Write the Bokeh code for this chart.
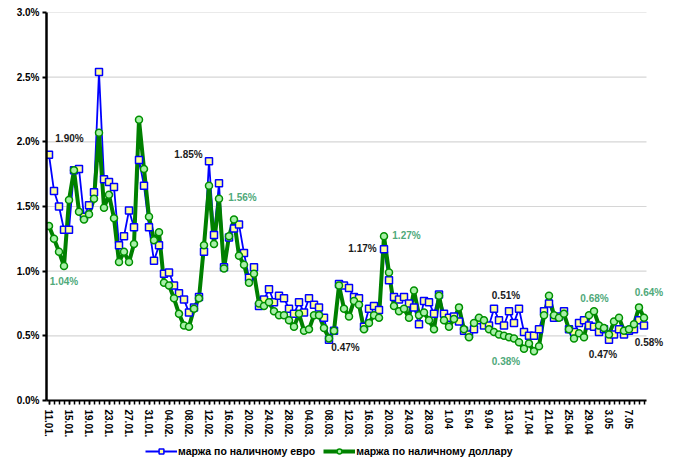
from bokeh.plotting import figure
from bokeh.layouts import column
from bokeh.models import FixedTicker, Legend, LegendItem, LabelSet, ColumnDataSource
from bokeh.core.properties import value
from bokeh.embed import file_html
from bokeh.resources import INLINE

# daily margin values, % (11.01 ... 10.05)
euro = [1.90, 1.62, 1.50, 1.32, 1.32, 1.78, 1.79, 1.42, 1.51, 1.61,
        2.54, 1.71, 1.69, 1.65, 1.20, 1.27, 1.47, 1.34, 1.86, 1.66,
        1.34, 1.08, 1.20, 0.98, 0.99, 0.89, 0.83, 0.78, 0.68, 0.72,
        0.80, 1.15, 1.85, 1.28, 1.68, 1.03, 1.26, 1.33, 1.36, 1.14,
        0.95, 1.03, 0.73, 0.78, 0.86, 0.76, 0.81, 0.79, 0.71, 0.67,
        0.76, 0.68, 0.79, 0.74, 0.72, 0.64, 0.47, 0.54, 0.90, 0.89,
        0.87, 0.80, 0.79, 0.57, 0.71, 0.73, 0.70, 1.17, 0.93, 0.80,
        0.78, 0.80, 0.75, 0.72, 0.59, 0.77, 0.76, 0.67, 0.82, 0.67,
        0.64, 0.65, 0.61, 0.54, 0.51, 0.55, 0.62, 0.58, 0.58, 0.71,
        0.62, 0.58, 0.69, 0.60, 0.71, 0.53, 0.50, 0.50, 0.55, 0.69,
        0.75, 0.64, 0.65, 0.69, 0.55, 0.53, 0.60, 0.62, 0.58, 0.57,
        0.53, 0.55, 0.47, 0.51, 0.55, 0.51, 0.54, 0.55, 0.62, 0.58]

dollar = [1.35, 1.25, 1.15, 1.04, 1.55, 1.78, 1.46, 1.40, 1.44, 1.56,
          2.07, 1.49, 1.59, 1.41, 1.07, 1.15, 1.07, 1.21, 2.17, 1.79,
          1.42, 1.24, 1.30, 0.91, 0.89, 0.79, 0.67, 0.58, 0.57, 0.71,
          0.79, 1.20, 1.66, 1.21, 1.56, 1.02, 1.27, 1.40, 1.12, 1.05,
          0.91, 0.98, 0.75, 0.73, 0.76, 0.69, 0.66, 0.66, 0.62, 0.57,
          0.67, 0.54, 0.55, 0.66, 0.66, 0.56, 0.48, 0.54, 0.89, 0.71,
          0.65, 0.77, 0.74, 0.55, 0.60, 0.66, 0.64, 1.27, 0.99, 0.73,
          0.69, 0.71, 0.64, 0.85, 0.66, 0.68, 0.62, 0.55, 0.81, 0.62,
          0.57, 0.63, 0.72, 0.55, 0.49, 0.60, 0.64, 0.62, 0.55, 0.53,
          0.51, 0.50, 0.49, 0.48, 0.45, 0.40, 0.44, 0.38, 0.42, 0.66,
          0.81, 0.66, 0.64, 0.67, 0.55, 0.48, 0.52, 0.49, 0.66, 0.69,
          0.58, 0.56, 0.51, 0.61, 0.64, 0.54, 0.55, 0.59, 0.72, 0.64]

tick_step = 4
tick_labels = ["11.01.", "15.01.", "19.01.", "23.01.", "27.01.", "31.01.",
               "04.02.", "08.02.", "12.02.", "16.02.", "20.02.", "24.02.",
               "28.02.", "04.03.", "08.03.", "12.03.", "16.03.", "20.03.",
               "24.03", "28.03", "1.04", "5.04", "9.04", "13.04", "17.04",
               "21.04", "25.04", "29.04", "3.05", "7.05"]

y_ticks = [0.0, 0.5, 1.0, 1.5, 2.0, 2.5, 3.0]
y_tick_labels = ["0.0%", "0.5%", "1.0%", "1.5%", "2.0%", "2.5%", "3.0%"]

series_names = ["маржа по наличному евро", "маржа по наличному доллару"]

# annotation labels (position in day index / value units)
ann_text = ["1.90%", "1.04%", "1.85%", "1.56%", "1.17%", "1.27%", "0.47%",
            "0.51%", "0.38%", "0.68%", "0.47%", "0.64%", "0.58%"]
ann_x = [4.1, 3.0, 27.9, 38.7, 62.7, 71.5, 59.3, 91.4, 91.4, 109.1, 110.8, 120.0, 120.0]
ann_y = [2.024, 0.922, 1.90, 1.566, 1.176, 1.277, 0.406, 0.814, 0.298, 0.787, 0.356, 0.837, 0.448]
ann_series = [0, 1, 0, 1, 0, 1, 0, 0, 1, 1, 0, 1, 0]

BLACK_LBL = "#1a1a1a"
GREEN_LBL = "#4fa97a"
ann_color = [BLACK_LBL if s == 0 else GREEN_LBL for s in ann_series]

BLUE, BLUE_FILL = "#0000ff", "#ffff99"
GREEN_LINE, GREEN_EDGE, GREEN_FILL = "#008000", "#009000", "#a8f0a8"

FONT = "Liberation Sans"
n = len(euro)
xs = list(range(n))
pad_days = 4  # extra room on the right for the end labels

p = figure(width=684, height=440,
           x_range=(-0.5, n - 0.5 + pad_days), y_range=(0, 3.0),
           output_backend="svg", toolbar_location=None,
           min_border_left=46, min_border_right=18,
           min_border_top=12, min_border_bottom=38,
           background_fill_color="white", border_fill_color="white")
p.outline_line_color = None
p.xgrid.visible = False
p.ygrid.visible = False

# horizontal gridlines only across the data span
p.segment(x0=[-0.5] * len(y_ticks), x1=[n - 0.5] * len(y_ticks), y0=y_ticks, y1=y_ticks,
          line_color="#d6d6d6", line_width=1.2)

# x axis
major = list(range(0, n, tick_step))
p.xaxis.ticker = FixedTicker(ticks=major, minor_ticks=xs)
p.xaxis.bounds = (-0.5, n - 0.5)
p.xaxis.major_label_overrides = {major[i]: tick_labels[i] for i in range(len(tick_labels))}
p.xaxis.major_label_orientation = "vertical"
p.xaxis.axis_line_width = 2
p.xaxis.axis_line_color = "black"
p.xaxis.major_tick_in = 0
p.xaxis.major_tick_out = 4
p.xaxis.minor_tick_in = 0
p.xaxis.minor_tick_out = 4
p.xaxis.major_tick_line_width = 1.5
p.xaxis.minor_tick_line_width = 1.5
p.xaxis.major_tick_line_color = "black"
p.xaxis.minor_tick_line_color = "black"
p.xaxis.major_label_text_font = FONT
p.xaxis.major_label_text_font_style = "bold"
p.xaxis.major_label_text_font_size = "10px"
p.xaxis.major_label_text_color = "black"
p.xaxis.major_label_standoff = 5

# y axis
p.yaxis.ticker = FixedTicker(ticks=y_ticks)
p.yaxis.major_label_overrides = {y_ticks[i]: y_tick_labels[i] for i in range(len(y_ticks))}
p.yaxis.axis_line_width = 2.5
p.yaxis.axis_line_color = "black"
p.yaxis.major_tick_in = 0
p.yaxis.major_tick_out = 4
p.yaxis.major_tick_line_width = 2
p.yaxis.major_tick_line_color = "black"
p.yaxis.minor_tick_line_color = None
p.yaxis.major_label_text_font = FONT
p.yaxis.major_label_text_font_style = "bold"
p.yaxis.major_label_text_font_size = "10px"
p.yaxis.major_label_text_color = "black"
p.yaxis.major_label_standoff = 3

# lines
p.line(xs, euro, line_color=BLUE, line_width=1.8)
p.line(xs, dollar, line_color=GREEN_LINE, line_width=4)
# markers
p.scatter(xs, euro, marker="square", size=7, fill_color=BLUE_FILL,
          line_color=BLUE, line_width=1.5)
p.scatter(xs, dollar, marker="circle", size=7, fill_color=GREEN_FILL,
          line_color=GREEN_EDGE, line_width=1.5)

# annotations
ann_src = ColumnDataSource(dict(x=ann_x, y=ann_y, text=ann_text, color=ann_color))
p.add_layout(LabelSet(x="x", y="y", text="text", source=ann_src,
                      text_color="color", text_font=value(FONT),
                      text_font_style="bold", text_font_size="10px",
                      text_align="center", text_baseline="middle"))

# legend strip under the chart (legend-only renderers sit outside the visible range)
lg = figure(width=684, height=21, x_range=(0, 1), y_range=(0, 1),
            output_backend="svg", toolbar_location=None, min_border=0,
            border_fill_color="white")
lg.axis.visible = False
lg.grid.visible = False
lg.outline_line_color = None
off = [-5, -4]
bl = lg.line(off, off, line_color=BLUE, line_width=1.8)
bs = lg.scatter(off, off, marker="square", size=7, fill_color=BLUE_FILL,
                line_color=BLUE, line_width=1.5)
gl = lg.line(off, off, line_color=GREEN_LINE, line_width=4)
gs = lg.scatter(off, off, marker="circle", size=7, fill_color=GREEN_FILL,
                line_color=GREEN_EDGE, line_width=1.5)
legend = Legend(items=[LegendItem(label=series_names[0], renderers=[bl, bs]),
                       LegendItem(label=series_names[1], renderers=[gl, gs])],
                orientation="horizontal", location=(99, 4),
                border_line_color=None, background_fill_alpha=0,
                label_text_font=FONT, label_text_font_style="bold",
                label_text_font_size="10.5px", label_text_color="black",
                glyph_width=32, glyph_height=12, label_height=12,
                padding=0, margin=0, spacing=8, label_standoff=1)
lg.add_layout(legend)

open("out.html", "w").write(file_html(column(p, lg, spacing=0), INLINE))
